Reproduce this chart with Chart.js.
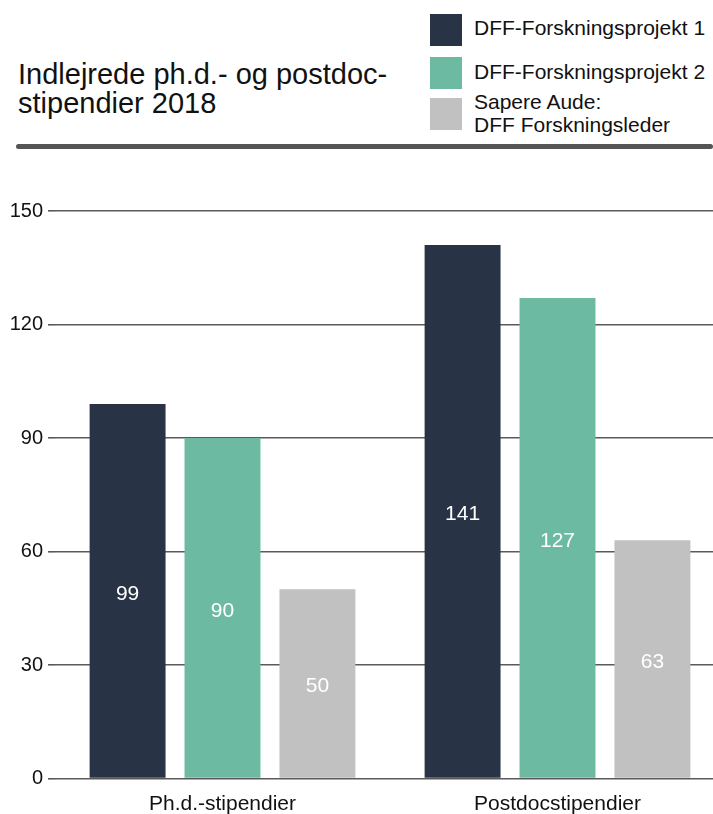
<!DOCTYPE html>
<html>
<head>
<meta charset="utf-8">
<script src="https://cdn.jsdelivr.net/npm/chart.js@4/dist/chart.umd.min.js"></script>
<style>
  html, body { margin: 0; padding: 0; background: #fff; overflow: hidden; width: 713px; height: 814px; }
  body { position: relative; font-family: "Liberation Sans", Arial, sans-serif; color: #111; }
  #title { position: absolute; left: 18px; top: 60px; font-size: 29px; line-height: 29px; color: #111; white-space: pre-line; }
  #legend { position: absolute; left: 430px; top: 0; }
  .li { position: absolute; left: 0; white-space: pre-line; font-size: 21px; line-height: 23px; width: 290px; }
  .sw { position: absolute; left: 0; width: 32px; height: 32px; }
  .lt { position: absolute; left: 44px; }
  #rule { position: absolute; left: 16px; top: 143.5px; width: 697px; height: 5px; background: #555; border-radius: 3px; }
  #wrap { position: absolute; left: 0; top: 0; width: 725px; height: 814px; }
</style>
</head>
<body>
<div id="title"></div>
<div id="legend"></div>
<div id="rule"></div>
<div id="wrap"><canvas id="c" width="725" height="814"></canvas></div>
<script>
const titleText = "Indlejrede ph.d.- og postdoc-\nstipendier 2018";
const categories = ["Ph.d.-stipendier", "Postdocstipendier"];
const seriesNames = ["DFF-Forskningsprojekt 1", "DFF-Forskningsprojekt 2", "Sapere Aude:\nDFF Forskningsleder"];
const seriesColors = ["#283345", "#6cbaa1", "#c1c1c1"];
const project1 = [99, 141];
const project2 = [90, 127];
const sapereAude = [50, 63];
const yTicks = [0, 30, 60, 90, 120, 150];

document.getElementById('title').textContent = titleText;

// legend (HTML)
const legendTops = [14, 57, 98];
const textTops = [16, 60, 90];
const leg = document.getElementById('legend');
seriesNames.forEach((n, i) => {
  const sw = document.createElement('div');
  sw.className = 'sw';
  sw.style.top = legendTops[i] + 'px';
  sw.style.background = seriesColors[i];
  leg.appendChild(sw);
  const t = document.createElement('div');
  t.className = 'li lt';
  t.style.top = textTops[i] + 'px';
  t.textContent = n;
  leg.appendChild(t);
});

const valueLabels = {
  id: 'valueLabels',
  afterDatasetsDraw(chart) {
    const ctx = chart.ctx;
    ctx.save();
    ctx.fillStyle = '#ffffff';
    ctx.font = '21px "Liberation Sans", Arial, sans-serif';
    ctx.textAlign = 'center';
    ctx.textBaseline = 'middle';
    chart.data.datasets.forEach((ds, di) => {
      const meta = chart.getDatasetMeta(di);
      meta.data.forEach((el, i) => {
        const v = ds.data[i];
        ctx.fillText(String(v), el.x, (el.y + el.base) / 2 + 3);
      });
    });
    ctx.restore();
  }
};

const datasets = [project1, project2, sapereAude].map((d, i) => ({
  label: seriesNames[i],
  data: d,
  backgroundColor: seriesColors[i],
  borderWidth: 0,
  categoryPercentage: 0.85,
  barPercentage: 0.8
}));

new Chart(document.getElementById('c'), {
  type: 'bar',
  data: { labels: categories, datasets },
  options: {
    responsive: false,
    animation: false,
    devicePixelRatio: 1,
    layout: { padding: { top: 211, left: 0, right: 0, bottom: 0 } },
    plugins: { legend: { display: false }, tooltip: { enabled: false }, title: { display: false } },
    scales: {
      x: {
        grid: { display: false, drawTicks: false },
        border: { display: false },
        ticks: {
          color: '#111',
          font: { family: '"Liberation Sans", Arial, sans-serif', size: 21 },
          padding: 13
        },
        afterFit(scale) { scale.height = 814 - 778.5; }
      },
      y: {
        min: 0, max: 150,
        afterBuildTicks(scale) { scale.ticks = yTicks.map(v => ({ value: v })); },
        grid: { color: '#5a5a5a', lineWidth: 1.6, drawTicks: true, tickLength: 7 },
        border: { display: false },
        ticks: {
          color: '#111',
          font: { family: '"Liberation Sans", Arial, sans-serif', size: 20 },
          padding: 5
        },
        afterFit(scale) { scale.width = 55; }
      }
    }
  },
  plugins: [valueLabels]
});
</script>
</body>
</html>
